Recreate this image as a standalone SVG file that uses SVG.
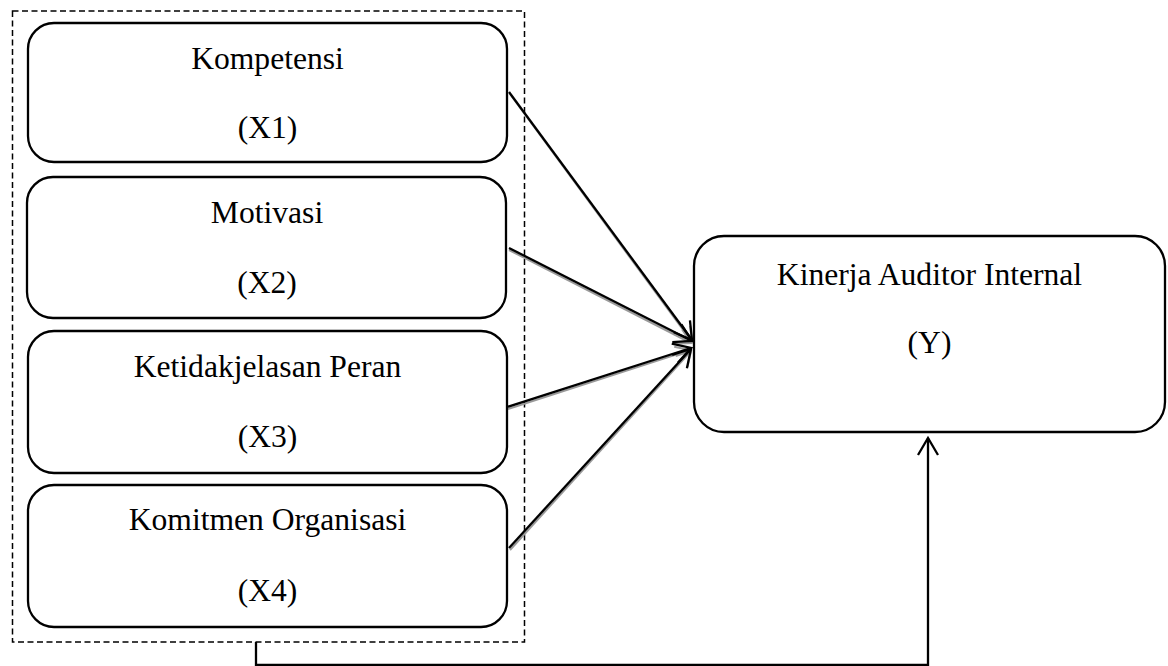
<svg xmlns="http://www.w3.org/2000/svg" width="1168" height="666" viewBox="0 0 1168 666">
<style>
.box{fill:#fff;stroke:#000;stroke-width:2.3}
.lbl{font-family:"Liberation Serif","Times New Roman",serif;font-size:31.6px;fill:#000;text-anchor:middle}
.ln{fill:none;stroke:#000;stroke-width:2.3}
.sh{fill:none;stroke:#9a9a9a;stroke-width:2}
.dash{fill:none;stroke:#000;stroke-width:1.5;stroke-dasharray:6 3.5}
</style>
<defs>
<marker id="ahg" markerUnits="userSpaceOnUse" markerWidth="30" markerHeight="30" refX="0" refY="0" viewBox="-20 -15 30 30" orient="auto" overflow="visible">
<path d="M-14,-8 L0,0 L-14,8" fill="none" stroke="#9a9a9a" stroke-width="2"/>
</marker>
<marker id="ahb" markerUnits="userSpaceOnUse" markerWidth="30" markerHeight="30" refX="0" refY="0" viewBox="-20 -15 30 30" orient="auto" overflow="visible">
<path d="M-17,-10 L0,0 L-17,10" fill="none" stroke="#000" stroke-width="2.3"/>
</marker>
</defs>
<rect width="1168" height="666" fill="#fff"/>
<g id="group-x">
<rect class="dash" x="12.5" y="11" width="512" height="631"/>
</g>
<g id="connectors">
<line class="sh" x1="510" y1="94" x2="692" y2="342" marker-end="url(#ahg)"/>
<line class="sh" x1="509" y1="250" x2="691" y2="343" marker-end="url(#ahg)"/>
<line class="sh" x1="508" y1="409" x2="690" y2="350" marker-end="url(#ahg)"/>
<line class="sh" x1="510" y1="550" x2="691" y2="351" marker-end="url(#ahg)"/>
<line class="ln" x1="509" y1="92" x2="692" y2="340" marker-end="url(#ahb)"/>
<line class="ln" x1="509" y1="248" x2="692" y2="341" marker-end="url(#ahb)"/>
<line class="ln" x1="507" y1="407" x2="691" y2="348" marker-end="url(#ahb)"/>
<line class="ln" x1="509" y1="548" x2="691" y2="349" marker-end="url(#ahb)"/>
<polyline class="ln" points="256,642 256,665 928,665 928,438" marker-end="url(#ahb)"/>
</g>
<g id="x1">
<rect class="box" x="28" y="23" width="479" height="139" rx="26"/>
<text class="lbl" x="267.5" y="69">Kompetensi</text>
<text class="lbl" x="267.5" y="138">(X1)</text>
</g>
<g id="x2">
<rect class="box" x="27" y="177" width="479" height="141" rx="26"/>
<text class="lbl" x="267" y="223">Motivasi</text>
<text class="lbl" x="267" y="293">(X2)</text>
</g>
<g id="x3">
<rect class="box" x="28" y="331" width="479" height="142" rx="26"/>
<text class="lbl" x="267.5" y="377">Ketidakjelasan Peran</text>
<text class="lbl" x="267.5" y="447">(X3)</text>
</g>
<g id="x4">
<rect class="box" x="28" y="485" width="479" height="142" rx="26"/>
<text class="lbl" x="267.5" y="530">Komitmen Organisasi</text>
<text class="lbl" x="267.5" y="601">(X4)</text>
</g>
<g id="y">
<rect class="box" x="694" y="236" width="471" height="196" rx="30"/>
<text class="lbl" x="929.5" y="285">Kinerja Auditor Internal</text>
<text class="lbl" x="929.5" y="353">(Y)</text>
</g>
</svg>
